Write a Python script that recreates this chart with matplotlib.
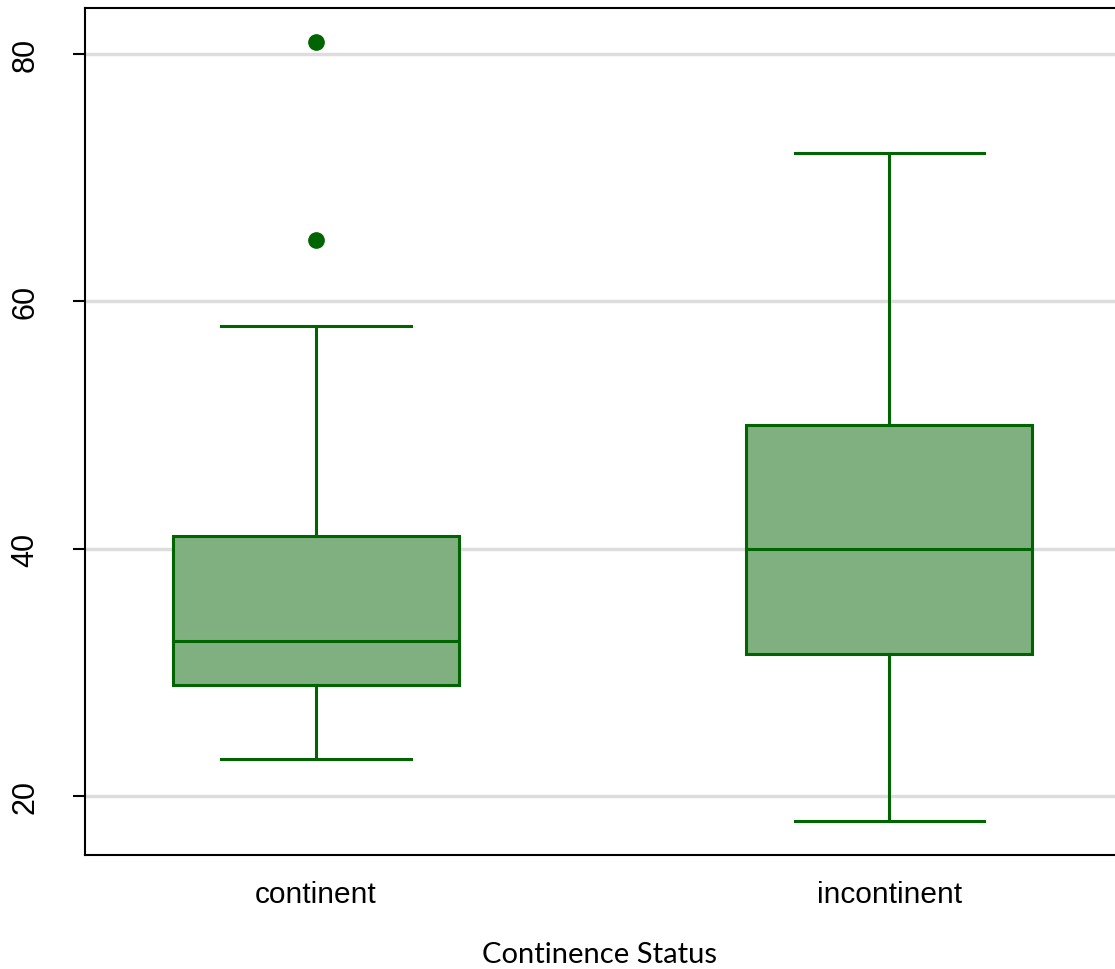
import matplotlib
matplotlib.use('Agg')
import matplotlib.pyplot as plt

GROUPS = ['continent', 'incontinent']
WHISKER_LOW = [23, 18]
Q1 = [29, 31.5]
MEDIAN = [32.5, 40]
Q3 = [41, 50]
WHISKER_HIGH = [58, 72]
OUTLIERS = [[65, 81], []]
Y_TICKS = [20, 40, 60, 80]

EDGE = '#006400'
FILL = '#80B080'

stats = []
for i, name in enumerate(GROUPS):
    stats.append({
        'label': name,
        'whislo': WHISKER_LOW[i],
        'q1': Q1[i],
        'med': MEDIAN[i],
        'q3': Q3[i],
        'whishi': WHISKER_HIGH[i],
        'fliers': OUTLIERS[i],
    })

fig = plt.figure(figsize=(11.15, 9.7), dpi=100)
ax = fig.add_axes([85 / 1115, 114 / 970, 1 - 85 / 1115, 847 / 970])

ax.bxp(stats, positions=[1, 2], widths=0.5, patch_artist=True,
       boxprops=dict(facecolor=FILL, edgecolor=EDGE, linewidth=2.2),
       medianprops=dict(color=EDGE, linewidth=2.2),
       whiskerprops=dict(color=EDGE, linewidth=2.2),
       capprops=dict(color=EDGE, linewidth=2.2),
       capwidths=0.33,
       flierprops=dict(marker='o', markerfacecolor=EDGE, markeredgecolor=EDGE,
                       markersize=11))

ax.set_xlim(0.597, 2.394)
ax.set_ylim(15.23, 83.72)
ax.set_yticks(Y_TICKS)
ax.set_yticklabels([str(t) for t in Y_TICKS], rotation=90, va='center',
                   family='Liberation Sans', fontsize=22)
ax.set_xticks([1, 2])
ax.set_xticklabels(GROUPS, family='Liberation Sans', fontsize=21.5)
ax.tick_params(axis='x', length=0, pad=18)
ax.tick_params(axis='y', length=9, width=1.5, pad=23)

ax.grid(axis='y', color='#DDDDDD', linewidth=2.5)
ax.set_axisbelow(True)
for s in ['left', 'bottom', 'top']:
    ax.spines[s].set_linewidth(1.5)
ax.spines['right'].set_visible(False)

ax.set_xlabel('Continence Status', family='Lato', fontsize=21, labelpad=24)

fig.savefig('out.png', dpi=100)
